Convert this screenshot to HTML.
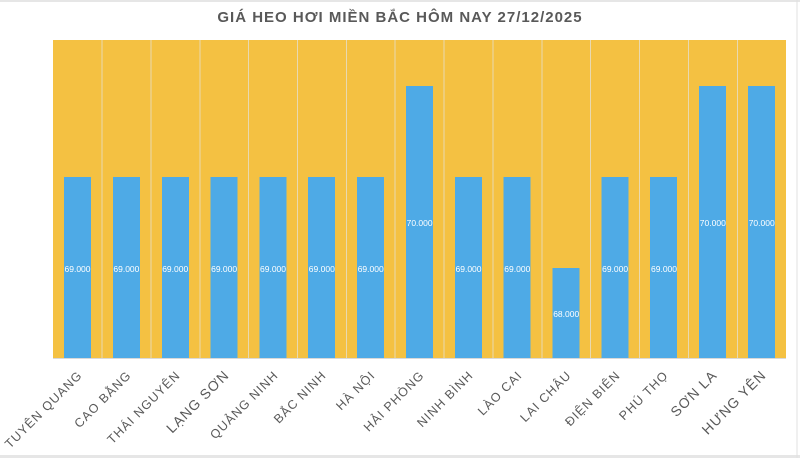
<!DOCTYPE html>
<html><head><meta charset="utf-8"><style>
body{margin:0;background:#fff;}
svg{display:block;font-family:"Liberation Sans","DejaVu Sans",sans-serif;}
</style></head><body>
<svg width="800" height="458" xmlns="http://www.w3.org/2000/svg">
<rect x="0" y="0" width="800" height="458" fill="#fff"/>
<rect x="0" y="0" width="800" height="2" fill="#e6e6e6"/>
<rect x="0" y="455" width="800" height="3" fill="#e6e6e6"/>
<line x1="797" y1="0" x2="797" y2="458" stroke="#e0e0e0"/>
<text x="400" y="22" text-anchor="middle" font-size="15" font-weight="bold" fill="#595959" letter-spacing="1">GIÁ HEO HƠI MIỀN BẮC HÔM NAY 27/12/2025</text>
<rect x="53" y="40" width="733" height="318" fill="#f4c142"/>
<g stroke="#e8d9b0" stroke-width="1">
<line x1="102" y1="40" x2="102" y2="358"/><line x1="151" y1="40" x2="151" y2="358"/><line x1="200" y1="40" x2="200" y2="358"/><line x1="248.5" y1="40" x2="248.5" y2="358"/><line x1="297.5" y1="40" x2="297.5" y2="358"/><line x1="346.5" y1="40" x2="346.5" y2="358"/><line x1="395" y1="40" x2="395" y2="358"/><line x1="444" y1="40" x2="444" y2="358"/><line x1="493" y1="40" x2="493" y2="358"/><line x1="542" y1="40" x2="542" y2="358"/><line x1="590.5" y1="40" x2="590.5" y2="358"/><line x1="639.5" y1="40" x2="639.5" y2="358"/><line x1="688.5" y1="40" x2="688.5" y2="358"/><line x1="737.5" y1="40" x2="737.5" y2="358"/>
</g>
<line x1="53" y1="358.5" x2="786" y2="358.5" stroke="#d9d9d9"/>
<g fill="#4eaae6">
<rect x="64" y="177" width="27" height="181"/>
<rect x="113" y="177" width="27" height="181"/>
<rect x="162" y="177" width="27" height="181"/>
<rect x="210.5" y="177" width="27" height="181"/>
<rect x="259.5" y="177" width="27" height="181"/>
<rect x="308" y="177" width="27" height="181"/>
<rect x="357" y="177" width="27" height="181"/>
<rect x="406" y="86" width="27" height="272"/>
<rect x="455" y="177" width="27" height="181"/>
<rect x="503.5" y="177" width="27" height="181"/>
<rect x="552.5" y="268" width="27" height="90"/>
<rect x="601.5" y="177" width="27" height="181"/>
<rect x="650" y="177" width="27" height="181"/>
<rect x="699" y="86" width="27" height="272"/>
<rect x="748" y="86" width="27" height="272"/>
</g>
<g fill="#fff" font-size="8.5" text-anchor="middle">
<text x="77.5" y="272">69.000</text><text x="126.4" y="272">69.000</text><text x="175.2" y="272">69.000</text><text x="224.1" y="272">69.000</text><text x="273" y="272">69.000</text><text x="321.8" y="272">69.000</text><text x="370.7" y="272">69.000</text><text x="419.6" y="226">70.000</text><text x="468.5" y="272">69.000</text><text x="517.3" y="272">69.000</text><text x="566.2" y="317">68.000</text><text x="615.1" y="272">69.000</text><text x="664" y="272">69.000</text><text x="712.8" y="226">70.000</text><text x="761.7" y="226">70.000</text>
</g>
<g fill="#595959" font-size="12.5" text-anchor="end" letter-spacing="1.05">
<text transform="translate(83,376) rotate(-45)">TUYÊN QUANG</text>
<text transform="translate(132,376) rotate(-45)">CAO BẰNG</text>
<text transform="translate(181,376) rotate(-45)">THÁI NGUYÊN</text>
<text transform="translate(230,376) rotate(-45)" font-size="14">LẠNG SƠN</text>
<text transform="translate(279,376) rotate(-45)">QUẢNG NINH</text>
<text transform="translate(327,376) rotate(-45)">BẮC NINH</text>
<text transform="translate(376,376) rotate(-45)">HÀ NỘI</text>
<text transform="translate(425,376) rotate(-45)">HẢI PHÒNG</text>
<text transform="translate(474,376) rotate(-45)">NINH BÌNH</text>
<text transform="translate(523,376) rotate(-45)">LÀO CAI</text>
<text transform="translate(572,376) rotate(-45)">LAI CHÂU</text>
<text transform="translate(621,376) rotate(-45)">ĐIỆN BIÊN</text>
<text transform="translate(669,376) rotate(-45)">PHÚ THỌ</text>
<text transform="translate(718,376) rotate(-45)" font-size="14">SƠN LA</text>
<text transform="translate(767,376) rotate(-45)" font-size="14">HƯNG YÊN</text>
</g>
</svg>
</body></html>
